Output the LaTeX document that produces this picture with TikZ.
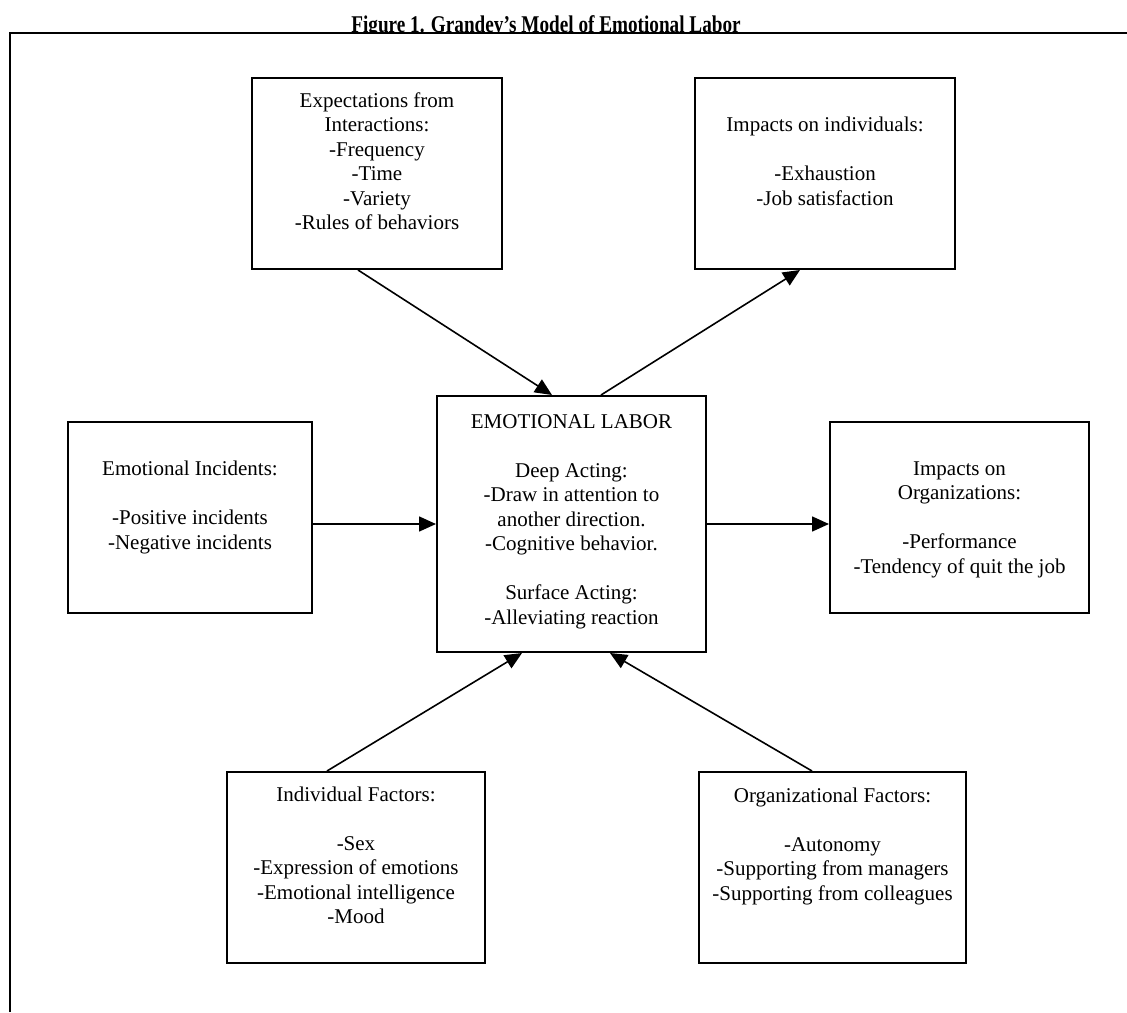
\documentclass[tikz,border=0pt]{standalone}
\usepackage{fontspec}
\setmainfont{Liberation Serif}
\usetikzlibrary{positioning,arrows.meta}

\tikzset{
  box/.style={draw,line width=2pt,align=center,text depth=25pt,
    font=\fontsize{21}{24.5}\selectfont},
  link/.style={line width=1.6pt,-{Triangle[length=17pt,width=15pt]}}
}

\begin{document}
\begin{tikzpicture}[x=1pt,y=-1pt]
\useasboundingbox (0,0) rectangle (1127,1012);
\begin{scope}
\clip (0,0) rectangle (1127,33);
\node[anchor=base,font=\fontsize{24}{28}\bfseries,xscale=0.8] (title) at (546,32) {Figure 1. Grandey’s Model of Emotional Labor};
\end{scope}
\draw[line width=2pt] (10,1012) -- (10,33) -- (1127,33);
\node[box,minimum width=269pt,minimum height=256pt,text depth=9pt] (el) at (571.5,524) {EMOTIONAL LABOR\\[24.5pt]Deep Acting:\\-Draw in attention to\\another direction.\\-Cognitive behavior.\\[24.5pt]Surface Acting:\\-Alleviating reaction};
\node[box,minimum width=244pt,minimum height=191pt,left of=el,node distance=381.5pt,yshift=6.5pt] (ei) {Emotional Incidents:\\[24.5pt]-Positive incidents\\-Negative incidents};
\node[box,minimum width=259pt,minimum height=191pt,text depth=-5pt,right of=el,node distance=388pt,yshift=6.5pt] (orgimp) {Impacts on\\Organizations:\\[24.5pt]-Performance\\-Tendency of quit the job};
\node[box,minimum width=250pt,minimum height=191pt,above of=el,node distance=350.5pt,xshift=-194.5pt] (expect) {Expectations from\\Interactions:\\-Frequency\\-Time\\-Variety\\-Rules of behaviors};
\node[box,minimum width=260pt,minimum height=191pt,above of=el,node distance=350.5pt,xshift=253.5pt] (impind) {Impacts on individuals:\\[24.5pt]-Exhaustion\\-Job satisfaction};
\node[box,minimum width=258pt,minimum height=191pt,below of=el,node distance=343.5pt,xshift=-215.5pt] (indf) {Individual Factors:\\[24.5pt]-Sex\\-Expression of emotions\\-Emotional intelligence\\-Mood};
\node[box,minimum width=267pt,minimum height=191pt,text depth=47pt,below of=el,node distance=343.5pt,xshift=261pt] (orgf) {Organizational Factors:\\[24.5pt]-Autonomy\\-Supporting from managers\\-Supporting from colleagues};
\draw[link] ([xshift=-19pt]expect.south) -- ([xshift=-19.5pt]el.north);
\draw[link] ([xshift=29.5pt]el.north) -- ([xshift=-25pt]impind.south);
\draw[link] (ei.east |- el.west) -- (el.west);
\draw[link] (el.east) -- (orgimp.west |- el.east);
\draw[link] ([xshift=-29pt]indf.north) -- ([xshift=-49.5pt]el.south);
\draw[link] ([xshift=-20.5pt]orgf.north) -- ([xshift=38.5pt]el.south);
\end{tikzpicture}
\end{document}
